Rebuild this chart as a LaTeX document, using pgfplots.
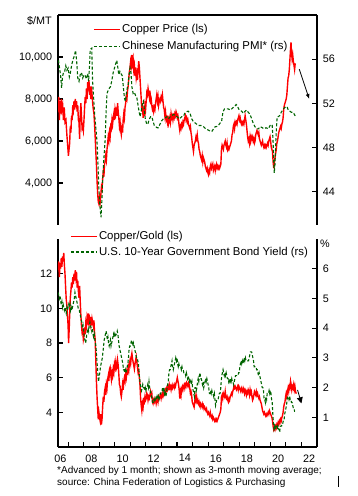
\documentclass[border=0pt]{standalone}
\usepackage{fontspec}
\setmainfont{Liberation Sans}
\usepackage{pgfplots}
\pgfplotsset{compat=1.18}
\usetikzlibrary{arrows.meta}
\definecolor{cured}{RGB}{255,0,0}
\definecolor{dgreen}{RGB}{0,100,0}
\pgfplotsset{
  panel/.style={scale only axis, width=259pt, xmin=2006.35, xmax=2023,
    tick align=inside, major tick length=5pt,
    axis line style={line width=1.1pt},
    every tick/.style={black, line width=1.1pt},
    ticklabel style={font=\fontsize{10.8}{12}\selectfont},
    scaled y ticks=false,
    /pgf/number format/assume math mode=true,
    /pgf/number format/1000 sep={,},
    legend cell align=left,
    legend image code/.code={\draw[##1] (0pt,0pt) -- (26pt,0pt);},
  },
  redline/.style={cured, line width=1.4pt},
  greenline/.style={dgreen, line width=1.1pt, dash pattern=on 3pt off 2pt},
  lab/.style={yticklabel style={xshift=-2.4pt}},
  rab/.style={yticklabel style={xshift=2.4pt}},
}
\begin{document}
\begin{tikzpicture}
\useasboundingbox (0pt,0pt) rectangle (358pt,496pt);
% ---------------- top panel: copper price
\begin{axis}[panel, lab, at={(58pt,271pt)}, anchor=south west, height=210pt,
  ymin=2000, ymax=12000, axis x line*=top, axis y line*=left, xtick=\empty,
  ytick={4000,6000,8000,10000}]
\addplot[redline] table {
x y
2006.36 7400
2006.40 8100
2006.44 7000
2006.48 7900
2006.52 7300
2006.56 8000
2006.60 7500
2006.65 7700
2006.70 7000
2006.75 7600
2006.80 6900
2006.86 7000
2006.92 6300
2006.97 5800
2007.02 5300
2007.06 5600
2007.10 5900
2007.14 6700
2007.18 6400
2007.22 7200
2007.26 7000
2007.30 7700
2007.34 7500
2007.38 7900
2007.42 7500
2007.46 8000
2007.50 7600
2007.54 7900
2007.58 7400
2007.62 7700
2007.66 7000
2007.70 6900
2007.74 6100
2007.78 7300
2007.82 7800
2007.86 7200
2007.90 6600
2007.94 6700
2007.98 6500
2008.02 7000
2008.06 7600
2008.10 8100
2008.14 7800
2008.18 8500
2008.22 8000
2008.26 8800
2008.30 8400
2008.34 8900
2008.38 8200
2008.42 8600
2008.46 8000
2008.50 8600
2008.54 8200
2008.58 7800
2008.62 7500
2008.66 7300
2008.70 6800
2008.74 6200
2008.78 5500
2008.82 4900
2008.86 4100
2008.90 3500
2008.94 3100
2008.98 3000
2009.02 3300
2009.06 3100
2009.10 3400
2009.14 3800
2009.18 3700
2009.22 4200
2009.26 4500
2009.30 4300
2009.34 4900
2009.38 5000
2009.42 5300
2009.46 5100
2009.50 5600
2009.54 5900
2009.58 6200
2009.62 6000
2009.66 6400
2009.70 6200
2009.74 6700
2009.78 6600
2009.82 7000
2009.86 6800
2009.90 7100
2009.94 7300
2009.98 7000
2010.02 7500
2010.06 7300
2010.10 7600
2010.14 7200
2010.18 7800
2010.22 7400
2010.26 7100
2010.30 6700
2010.34 6900
2010.38 6500
2010.42 6300
2010.46 6600
2010.50 6400
2010.54 7000
2010.58 7300
2010.62 7100
2010.66 7600
2010.70 7800
2010.74 8100
2010.78 8000
2010.82 8400
2010.86 8600
2010.90 9000
2010.94 9300
2010.98 9500
2011.02 9800
2011.06 9600
2011.10 10100
2011.14 9700
2011.18 9900
2011.22 9400
2011.26 9600
2011.30 9100
2011.34 9500
2011.38 9000
2011.42 9200
2011.46 8900
2011.50 9400
2011.54 9800
2011.58 9500
2011.62 9000
2011.66 8500
2011.70 8000
2011.74 7400
2011.78 7800
2011.82 7100
2011.86 7600
2011.90 7200
2011.94 7700
2011.98 7500
2012.02 7900
2012.06 8300
2012.10 8200
2012.14 8500
2012.18 8300
2012.22 8100
2012.26 8400
2012.30 7900
2012.34 8000
2012.38 7700
2012.42 7500
2012.46 7600
2012.50 7400
2012.54 7600
2012.58 7500
2012.62 7800
2012.66 8000
2012.70 8200
2012.74 7900
2012.78 8100
2012.82 7700
2012.86 7900
2012.90 8000
2012.94 7900
2012.98 8100
2013.02 8000
2013.06 8200
2013.10 7900
2013.14 7600
2013.18 7500
2013.22 7200
2013.26 7400
2013.30 7000
2013.34 7100
2013.38 6900
2013.42 7200
2013.46 6800
2013.50 6900
2013.54 7100
2013.58 6900
2013.62 7300
2013.66 7100
2013.70 7200
2013.74 7000
2013.78 7200
2013.82 7100
2013.86 7300
2013.90 7200
2013.94 7400
2013.98 7300
2014.02 7100
2014.06 7200
2014.10 7000
2014.14 6700
2014.18 6500
2014.22 6700
2014.26 6600
2014.30 6800
2014.34 6700
2014.38 6900
2014.42 6800
2014.46 7000
2014.50 7100
2014.54 7200
2014.58 7000
2014.62 7100
2014.66 6900
2014.70 7000
2014.74 6800
2014.78 6700
2014.82 6600
2014.86 6700
2014.90 6400
2014.94 6200
2014.98 5900
2015.02 5700
2015.06 5500
2015.10 5800
2015.14 5900
2015.18 6000
2015.22 6200
2015.26 6100
2015.30 6300
2015.34 6000
2015.38 5900
2015.42 5600
2015.46 5500
2015.50 5300
2015.54 5200
2015.58 5100
2015.62 5300
2015.66 5000
2015.70 5200
2015.74 5100
2015.78 5000
2015.82 4800
2015.86 4700
2015.90 4600
2015.94 4700
2015.98 4500
2016.02 4400
2016.06 4600
2016.10 4500
2016.14 4800
2016.18 4900
2016.22 4700
2016.26 4800
2016.30 4900
2016.34 4600
2016.38 4700
2016.42 4800
2016.46 4600
2016.50 4800
2016.54 4900
2016.58 4700
2016.62 4800
2016.66 4700
2016.70 4800
2016.74 4700
2016.78 4800
2016.82 4900
2016.86 5600
2016.90 5800
2016.94 5700
2016.98 5600
2017.02 5800
2017.06 5900
2017.10 6000
2017.14 5800
2017.18 5700
2017.22 5900
2017.26 5600
2017.30 5700
2017.34 5600
2017.38 5700
2017.42 5800
2017.46 5900
2017.50 6000
2017.54 6300
2017.58 6400
2017.62 6700
2017.66 6800
2017.70 6600
2017.74 6900
2017.78 6800
2017.82 6900
2017.86 6800
2017.90 7000
2017.94 7100
2017.98 7200
2018.02 7000
2018.06 7100
2018.10 6900
2018.14 6800
2018.18 6900
2018.22 6800
2018.26 6900
2018.30 6800
2018.34 7000
2018.38 7200
2018.42 7000
2018.46 6800
2018.50 6500
2018.54 6200
2018.58 6000
2018.62 6100
2018.66 5900
2018.70 6200
2018.74 6000
2018.78 6200
2018.82 6100
2018.86 6200
2018.90 6000
2018.94 6100
2018.98 5900
2019.02 6000
2019.06 6300
2019.10 6400
2019.14 6500
2019.18 6400
2019.22 6300
2019.26 6400
2019.30 6100
2019.34 6000
2019.38 5900
2019.42 5800
2019.46 5900
2019.50 6000
2019.54 5800
2019.58 5700
2019.62 5800
2019.66 5700
2019.70 5800
2019.74 5700
2019.78 5800
2019.82 5900
2019.86 5800
2019.90 6000
2019.94 6100
2019.98 6200
2020.02 6000
2020.06 5700
2020.10 5600
2020.14 5500
2020.18 5000
2020.22 4700
2020.26 5000
2020.30 5200
2020.34 5400
2020.38 5600
2020.42 5900
2020.46 6000
2020.50 6200
2020.54 6400
2020.58 6500
2020.62 6600
2020.66 6700
2020.70 6600
2020.74 6800
2020.78 6900
2020.82 7100
2020.86 7500
2020.90 7700
2020.94 7800
2020.98 7900
2021.02 8000
2021.06 8200
2021.10 8600
2021.14 9000
2021.18 9100
2021.22 9400
2021.26 9900
2021.30 10400
2021.33 10700
2021.36 10200
2021.40 9900
2021.44 10100
2021.48 9800
2021.52 9600
2021.56 9400
2021.60 9700
};
\end{axis}
% ---------------- top panel: PMI
\begin{axis}[panel, rab, at={(58pt,271pt)}, anchor=south west, height=210pt,
  ymin=41, ymax=60, axis x line=none, axis y line*=right, xtick=\empty,
  ytick={44,48,52,56},
  legend style={at={(rel axis cs:0.135,0.962)}, anchor=north west, draw=none, fill=none,
    inner sep=0pt, font=\fontsize{11.4}{13}\selectfont, row sep=4pt,
    nodes={inner sep=1.5pt}}]
\addlegendimage{redline}
\addlegendentry{Copper Price (ls)}
\addplot[greenline] table {
x y
2006.38 55.9
2006.45 55.2
2006.52 54.5
2006.58 53.4
2006.64 54.4
2006.70 54.8
2006.78 54.9
2006.85 55.4
2006.92 55.0
2007.00 55.2
2007.08 54.4
2007.15 54.8
2007.22 55.4
2007.30 55.9
2007.40 56.3
2007.48 56.8
2007.55 55.8
2007.62 54.3
2007.70 54.0
2007.78 54.6
2007.86 54.8
2007.94 54.3
2008.02 54.6
2008.10 54.5
2008.18 54.2
2008.26 54.7
2008.32 54.0
2008.38 55.5
2008.42 56.9
2008.52 57.0
2008.57 54.1
2008.64 52.5
2008.70 51.1
2008.78 49.8
2008.85 48.7
2008.92 46.5
2008.97 44.5
2009.03 43.0
2009.08 42.2
2009.12 41.7
2009.17 43.2
2009.22 45.1
2009.30 47.0
2009.38 48.7
2009.45 51.5
2009.50 52.9
2009.58 53.2
2009.66 53.4
2009.72 53.5
2009.80 54.0
2009.90 54.8
2009.98 55.2
2010.06 55.6
2010.13 55.9
2010.20 55.2
2010.26 54.6
2010.33 54.9
2010.40 54.7
2010.48 54.5
2010.55 53.5
2010.62 52.5
2010.68 52.2
2010.74 52.8
2010.80 53.4
2010.86 53.6
2010.92 54.6
2010.98 55.2
2011.04 54.8
2011.10 53.5
2011.18 52.9
2011.26 53.0
2011.34 52.7
2011.42 52.5
2011.50 51.8
2011.57 51.2
2011.63 50.8
2011.70 51.3
2011.78 52.0
2011.84 52.2
2011.90 51.5
2011.96 50.6
2012.04 50.2
2012.12 50.1
2012.20 50.5
2012.30 50.8
2012.38 50.8
2012.46 50.4
2012.54 50.0
2012.62 49.9
2012.72 49.8
2012.80 49.8
2012.90 50.1
2013.00 50.4
2013.12 50.6
2013.24 50.7
2013.34 50.8
2013.46 50.6
2013.56 50.8
2013.66 50.9
2013.78 51.0
2013.90 50.9
2014.00 50.8
2014.15 50.6
2014.30 50.8
2014.40 50.8
2014.50 51.1
2014.62 51.25
2014.72 51.3
2014.84 51.1
2014.95 50.6
2015.05 50.35
2015.20 50.2
2015.37 50.0
2015.55 50.0
2015.70 49.9
2015.85 49.7
2016.00 49.6
2016.12 49.5
2016.23 49.45
2016.35 49.7
2016.46 49.9
2016.54 49.9
2016.65 50.0
2016.76 50.2
2016.87 50.4
2016.95 51.2
2017.05 51.5
2017.18 51.5
2017.30 51.5
2017.45 51.4
2017.58 51.6
2017.70 51.7
2017.80 51.9
2017.88 51.8
2017.96 51.5
2018.05 51.4
2018.15 51.3
2018.27 51.1
2018.38 51.3
2018.48 51.4
2018.58 51.2
2018.70 51.0
2018.80 50.6
2018.90 50.2
2019.01 49.9
2019.12 49.7
2019.23 49.7
2019.35 49.9
2019.48 49.8
2019.60 49.7
2019.72 49.8
2019.87 49.7
2019.98 50.0
2020.08 50.1
2020.12 50.0
2020.16 49.0
2020.19 48.0
2020.22 46.8
2020.25 45.7
2020.30 46.5
2020.34 48.0
2020.39 49.7
2020.44 50.8
2020.52 50.8
2020.60 50.9
2020.70 51.2
2020.80 51.4
2020.90 51.6
2021.00 51.7
2021.08 51.7
2021.15 51.4
2021.25 51.3
2021.35 51.2
2021.45 51.2
2021.55 51.0
2021.62 50.8
};
\addlegendentry{Chinese Manufacturing PMI* (rs)}
\addplot[black, line width=0.8pt, -{Latex[length=5pt,width=4pt]}, forget plot] coordinates {(2021.86,55.1) (2022.5,52.4)};
\end{axis}
\node[anchor=east, inner sep=0pt, font=\fontsize{10.8}{12}\selectfont] at (52pt,475pt) {\$/MT};
% ---------------- bottom panel: copper/gold
\begin{axis}[panel, lab, at={(58pt,49pt)}, anchor=south west, height=208pt,
  ymin=2, ymax=14, axis x line*=bottom, axis y line*=left,
  ytick={4,6,8,10,12},
  xtick={2007,...,2023}, xticklabels={06,,08,,10,,12,,14,,16,,18,,20,,22},
  xticklabel style={xshift=-7.78pt, yshift=-4pt}]
\addplot[redline] table {
x y
2006.36 12.2
2006.40 12.7
2006.44 11.8
2006.48 12.6
2006.52 12.3
2006.56 12.9
2006.60 12.4
2006.64 13.0
2006.68 12.7
2006.72 13.2
2006.76 12.5
2006.80 12.0
2006.84 11.2
2006.88 10.5
2006.92 10.2
2006.96 9.6
2007.00 9.0
2007.03 8.0
2007.07 8.8
2007.10 9.6
2007.14 10.6
2007.18 11.0
2007.22 11.5
2007.26 11.2
2007.30 11.8
2007.34 11.4
2007.38 12.0
2007.42 11.6
2007.46 12.2
2007.50 11.8
2007.54 12.1
2007.58 11.2
2007.62 11.6
2007.66 11.0
2007.70 10.6
2007.74 11.3
2007.78 10.4
2007.82 9.6
2007.86 9.0
2007.90 8.6
2007.94 8.7
2007.98 8.2
2008.02 8.4
2008.06 8.9
2008.10 8.5
2008.14 9.2
2008.18 9.0
2008.22 9.5
2008.26 9.3
2008.30 9.7
2008.34 9.2
2008.38 9.4
2008.42 9.1
2008.46 9.5
2008.50 9.0
2008.54 9.4
2008.58 9.2
2008.62 9.0
2008.66 9.3
2008.70 8.6
2008.74 8.2
2008.78 7.0
2008.82 5.8
2008.86 4.9
2008.90 4.2
2008.94 3.6
2008.98 4.0
2009.02 3.7
2009.06 3.5
2009.10 3.9
2009.14 3.3
2009.18 3.6
2009.22 4.3
2009.26 4.9
2009.30 4.6
2009.34 5.2
2009.38 5.4
2009.42 5.0
2009.46 5.6
2009.50 5.4
2009.54 5.9
2009.58 6.1
2009.62 5.8
2009.66 6.5
2009.70 6.6
2009.74 6.2
2009.78 5.9
2009.82 6.3
2009.86 6.1
2009.90 6.5
2009.94 6.3
2009.98 6.8
2010.02 6.6
2010.06 6.9
2010.10 6.5
2010.14 6.6
2010.18 7.0
2010.22 6.7
2010.26 6.2
2010.30 5.6
2010.34 5.5
2010.38 5.1
2010.42 4.9
2010.46 5.2
2010.50 5.6
2010.54 5.3
2010.58 5.8
2010.62 6.0
2010.66 5.8
2010.70 6.2
2010.74 6.0
2010.78 6.4
2010.82 6.3
2010.86 6.6
2010.90 6.4
2010.94 6.8
2010.98 7.0
2011.02 6.8
2011.06 7.2
2011.10 7.4
2011.14 7.1
2011.18 6.9
2011.22 6.7
2011.26 6.5
2011.30 6.8
2011.34 7.0
2011.38 7.2
2011.42 6.9
2011.46 6.6
2011.50 6.3
2011.54 6.4
2011.58 6.0
2011.62 5.6
2011.66 4.8
2011.70 4.4
2011.74 4.1
2011.78 4.5
2011.82 4.3
2011.86 4.7
2011.90 4.6
2011.94 4.9
2011.98 4.7
2012.02 4.8
2012.06 5.1
2012.10 5.0
2012.14 4.7
2012.18 4.9
2012.22 4.8
2012.26 5.0
2012.30 5.2
2012.34 5.0
2012.38 5.1
2012.42 4.6
2012.46 4.5
2012.50 4.7
2012.54 4.6
2012.58 4.8
2012.62 4.7
2012.66 4.5
2012.70 4.7
2012.74 4.8
2012.78 4.6
2012.82 4.9
2012.86 4.8
2012.90 4.9
2012.94 5.0
2012.98 4.8
2013.02 5.0
2013.06 5.1
2013.10 4.9
2013.14 5.0
2013.18 5.2
2013.22 5.1
2013.26 5.3
2013.30 5.2
2013.34 5.4
2013.38 5.3
2013.42 5.5
2013.46 5.4
2013.50 5.6
2013.54 5.4
2013.58 5.5
2013.62 5.3
2013.66 5.5
2013.70 5.4
2013.74 5.6
2013.78 5.5
2013.82 5.4
2013.86 5.6
2013.90 5.5
2013.94 5.7
2013.98 5.8
2014.02 6.0
2014.06 5.8
2014.10 5.6
2014.14 5.3
2014.18 4.8
2014.22 5.2
2014.26 5.0
2014.30 5.4
2014.34 5.5
2014.38 5.3
2014.42 5.5
2014.46 5.6
2014.50 5.4
2014.54 5.6
2014.58 5.5
2014.62 5.7
2014.66 5.6
2014.70 5.5
2014.74 5.7
2014.78 5.6
2014.82 5.4
2014.86 5.1
2014.90 5.2
2014.94 5.0
2014.98 4.6
2015.02 4.5
2015.06 4.4
2015.10 4.3
2015.14 4.6
2015.18 4.9
2015.22 4.7
2015.26 4.9
2015.30 4.6
2015.34 4.7
2015.38 4.5
2015.42 4.6
2015.46 4.4
2015.50 4.5
2015.54 4.3
2015.58 4.4
2015.62 4.5
2015.66 4.3
2015.70 4.4
2015.74 4.2
2015.78 4.3
2015.82 4.2
2015.86 4.1
2015.90 4.2
2015.94 4.0
2015.98 3.9
2016.02 4.0
2016.06 3.9
2016.10 3.8
2016.14 4.0
2016.18 3.8
2016.22 3.7
2016.26 3.8
2016.30 3.6
2016.34 3.7
2016.38 3.6
2016.42 3.5
2016.46 3.6
2016.50 3.5
2016.54 3.6
2016.58 3.5
2016.62 3.6
2016.66 3.7
2016.70 3.8
2016.74 3.9
2016.78 4.0
2016.82 4.2
2016.86 4.9
2016.90 5.0
2016.94 4.8
2016.98 5.1
2017.02 5.0
2017.06 4.9
2017.10 5.2
2017.14 4.9
2017.18 4.8
2017.22 4.9
2017.26 4.7
2017.30 4.6
2017.34 4.8
2017.38 4.7
2017.42 4.9
2017.46 5.0
2017.50 5.1
2017.54 5.0
2017.58 5.2
2017.62 5.3
2017.66 5.5
2017.70 5.4
2017.74 5.5
2017.78 5.4
2017.82 5.3
2017.86 5.4
2017.90 5.5
2017.94 5.3
2017.98 5.5
2018.02 5.4
2018.06 5.3
2018.10 5.2
2018.14 5.4
2018.18 5.3
2018.22 5.2
2018.26 5.4
2018.30 5.3
2018.34 5.1
2018.38 5.3
2018.42 5.2
2018.46 5.0
2018.50 5.2
2018.54 5.1
2018.58 5.3
2018.62 5.2
2018.66 5.0
2018.70 5.3
2018.74 5.1
2018.78 5.2
2018.82 4.9
2018.86 4.7
2018.90 4.8
2018.94 5.0
2018.98 5.2
2019.02 5.1
2019.06 5.0
2019.10 5.2
2019.14 5.0
2019.18 5.1
2019.22 4.9
2019.26 4.8
2019.30 4.9
2019.34 4.7
2019.38 4.6
2019.42 4.5
2019.46 4.3
2019.50 4.1
2019.54 4.0
2019.58 3.9
2019.62 4.0
2019.66 3.9
2019.70 3.8
2019.74 3.9
2019.78 3.8
2019.82 3.9
2019.86 4.0
2019.90 3.9
2019.94 4.1
2019.98 4.0
2020.02 3.9
2020.06 3.8
2020.10 3.7
2020.14 3.5
2020.18 3.2
2020.22 3.0
2020.26 3.1
2020.30 3.0
2020.34 3.2
2020.38 3.1
2020.42 3.3
2020.46 3.2
2020.50 3.4
2020.54 3.3
2020.58 3.5
2020.62 3.4
2020.66 3.6
2020.70 3.5
2020.74 3.7
2020.78 3.8
2020.82 4.0
2020.86 4.3
2020.90 4.5
2020.94 4.6
2020.98 4.9
2021.02 5.1
2021.06 4.9
2021.10 5.2
2021.14 5.4
2021.18 5.2
2021.22 5.5
2021.26 5.4
2021.30 5.8
2021.34 5.6
2021.38 5.3
2021.42 5.5
2021.46 5.4
2021.50 5.6
2021.54 5.3
2021.58 5.5
2021.62 5.2
2021.66 5.1
2021.69 5.1
};
\end{axis}
% ---------------- bottom panel: bond yield
\begin{axis}[panel, rab, at={(58pt,49pt)}, anchor=south west, height=208pt,
  ymin=0, ymax=7, axis x line=none, axis y line*=right, xtick=\empty,
  ytick={1,2,3,4,5,6},
  legend style={at={(rel axis cs:0.046,1.045)}, anchor=north west, draw=none, fill=none,
    inner sep=0pt, font=\fontsize{11.4}{13}\selectfont, row sep=3pt,
    nodes={inner sep=1.5pt}}]
\addlegendimage{redline}
\addlegendentry{Copper/Gold (ls)}
\addplot[greenline] table {
x y
2006.36 5.2
2006.40 5.1
2006.44 5.0
2006.48 5.1
2006.52 4.9
2006.56 4.8
2006.60 4.9
2006.64 4.7
2006.68 4.8
2006.72 4.7
2006.76 4.6
2006.80 4.7
2006.84 4.6
2006.88 4.5
2006.92 4.7
2006.96 4.6
2007.00 4.7
2007.04 4.8
2007.08 4.7
2007.12 4.8
2007.16 4.6
2007.20 4.7
2007.24 4.6
2007.28 4.7
2007.32 4.8
2007.36 4.9
2007.40 5.0
2007.44 5.2
2007.48 5.1
2007.52 5.0
2007.56 4.9
2007.60 4.8
2007.64 4.7
2007.68 4.6
2007.72 4.6
2007.76 4.5
2007.80 4.4
2007.84 4.3
2007.88 4.2
2007.92 4.0
2007.96 4.1
2008.00 3.9
2008.04 3.7
2008.08 3.6
2008.12 3.5
2008.16 3.6
2008.20 3.8
2008.24 3.9
2008.28 4.0
2008.32 3.9
2008.36 4.1
2008.40 4.2
2008.44 4.1
2008.48 4.0
2008.52 3.9
2008.56 4.0
2008.60 3.8
2008.64 3.7
2008.68 3.8
2008.72 3.6
2008.76 3.5
2008.80 3.3
2008.84 3.0
2008.88 2.7
2008.92 2.4
2008.96 2.2
2009.00 2.4
2009.04 2.5
2009.08 2.7
2009.12 2.8
2009.16 2.9
2009.20 3.0
2009.24 3.2
2009.28 3.4
2009.32 3.6
2009.36 3.7
2009.40 3.8
2009.44 3.9
2009.48 3.8
2009.52 3.6
2009.56 3.7
2009.60 3.5
2009.64 3.4
2009.68 3.5
2009.72 3.6
2009.76 3.4
2009.80 3.5
2009.84 3.6
2009.88 3.7
2009.92 3.8
2009.96 3.7
2010.00 3.8
2010.04 3.7
2010.08 3.8
2010.12 3.8
2010.16 3.9
2010.20 3.8
2010.24 3.6
2010.28 3.4
2010.32 3.3
2010.36 3.2
2010.40 3.1
2010.44 3.0
2010.48 2.9
2010.52 2.8
2010.56 2.6
2010.60 2.6
2010.64 2.5
2010.68 2.6
2010.72 2.5
2010.76 2.6
2010.80 2.7
2010.84 2.8
2010.88 3.0
2010.92 3.3
2010.96 3.4
2011.00 3.4
2011.04 3.5
2011.08 3.6
2011.12 3.5
2011.16 3.4
2011.20 3.5
2011.24 3.4
2011.28 3.3
2011.32 3.2
2011.36 3.1
2011.40 3.0
2011.44 3.0
2011.48 2.9
2011.52 2.8
2011.56 2.5
2011.60 2.3
2011.64 2.1
2011.68 2.0
2011.72 1.9
2011.76 2.0
2011.80 2.1
2011.84 2.0
2011.88 2.0
2011.92 1.9
2011.96 2.0
2012.00 1.9
2012.04 2.0
2012.08 2.0
2012.12 2.1
2012.16 2.0
2012.20 2.2
2012.24 2.0
2012.28 1.9
2012.32 1.8
2012.36 1.7
2012.40 1.6
2012.44 1.5
2012.48 1.5
2012.52 1.6
2012.56 1.5
2012.60 1.6
2012.64 1.7
2012.68 1.6
2012.72 1.7
2012.76 1.6
2012.80 1.7
2012.84 1.6
2012.88 1.7
2012.92 1.8
2012.96 1.8
2013.00 1.9
2013.04 1.9
2013.08 2.0
2013.12 1.9
2013.16 2.0
2013.20 1.8
2013.24 1.9
2013.28 1.7
2013.32 1.8
2013.36 2.0
2013.40 2.1
2013.44 2.2
2013.48 2.5
2013.52 2.6
2013.56 2.6
2013.60 2.7
2013.64 2.8
2013.68 2.9
2013.72 2.7
2013.76 2.6
2013.80 2.7
2013.84 2.8
2013.88 2.9
2013.92 3.0
2013.96 2.9
2014.00 3.0
2014.04 2.8
2014.08 2.7
2014.12 2.8
2014.16 2.7
2014.20 2.7
2014.24 2.7
2014.28 2.6
2014.32 2.7
2014.36 2.6
2014.40 2.6
2014.44 2.5
2014.48 2.5
2014.52 2.5
2014.56 2.4
2014.60 2.5
2014.64 2.4
2014.68 2.3
2014.72 2.4
2014.76 2.3
2014.80 2.2
2014.84 2.3
2014.88 2.2
2014.92 2.1
2014.96 2.2
2015.00 2.0
2015.04 1.9
2015.08 1.8
2015.12 1.7
2015.16 2.0
2015.20 2.0
2015.24 1.9
2015.28 2.0
2015.32 2.2
2015.36 2.3
2015.40 2.2
2015.44 2.4
2015.48 2.5
2015.52 2.3
2015.56 2.3
2015.60 2.2
2015.64 2.1
2015.68 2.2
2015.72 2.0
2015.76 2.1
2015.80 2.2
2015.84 2.3
2015.88 2.2
2015.92 2.3
2015.96 2.2
2016.00 2.1
2016.04 2.0
2016.08 1.8
2016.12 1.8
2016.16 1.9
2016.20 1.8
2016.24 1.9
2016.28 1.8
2016.32 1.8
2016.36 1.7
2016.40 1.8
2016.44 1.6
2016.48 1.4
2016.52 1.5
2016.56 1.6
2016.60 1.6
2016.64 1.6
2016.68 1.7
2016.72 1.8
2016.76 1.8
2016.80 1.9
2016.84 2.2
2016.88 2.4
2016.92 2.5
2016.96 2.6
2017.00 2.5
2017.04 2.4
2017.08 2.5
2017.12 2.4
2017.16 2.5
2017.20 2.4
2017.24 2.3
2017.28 2.3
2017.32 2.2
2017.36 2.3
2017.40 2.2
2017.44 2.3
2017.48 2.2
2017.52 2.3
2017.56 2.2
2017.60 2.2
2017.64 2.1
2017.68 2.2
2017.72 2.3
2017.76 2.4
2017.80 2.4
2017.84 2.4
2017.88 2.4
2017.92 2.4
2017.96 2.5
2018.00 2.5
2018.04 2.7
2018.08 2.8
2018.12 2.9
2018.16 2.8
2018.20 2.9
2018.24 2.8
2018.28 2.9
2018.32 3.0
2018.36 2.9
2018.40 3.0
2018.44 2.9
2018.48 2.9
2018.52 2.9
2018.56 2.9
2018.60 2.9
2018.64 3.0
2018.68 3.1
2018.72 3.2
2018.76 3.2
2018.80 3.2
2018.84 3.1
2018.88 3.0
2018.92 2.9
2018.96 2.7
2019.00 2.7
2019.04 2.7
2019.08 2.7
2019.12 2.6
2019.16 2.6
2019.20 2.5
2019.24 2.4
2019.28 2.5
2019.32 2.4
2019.36 2.3
2019.40 2.2
2019.44 2.1
2019.48 2.0
2019.52 2.0
2019.56 1.9
2019.60 1.6
2019.64 1.6
2019.68 1.5
2019.72 1.7
2019.76 1.6
2019.80 1.8
2019.84 1.8
2019.88 1.8
2019.92 1.9
2019.96 1.8
2020.00 1.9
2020.04 1.8
2020.08 1.6
2020.12 1.5
2020.16 1.1
2020.20 0.8
2020.24 0.6
2020.28 0.7
2020.32 0.6
2020.36 0.7
2020.40 0.7
2020.44 0.6
2020.48 0.7
2020.52 0.6
2020.56 0.6
2020.60 0.5
2020.64 0.7
2020.68 0.7
2020.72 0.7
2020.76 0.8
2020.80 0.8
2020.84 0.9
2020.88 0.9
2020.92 1.1
2020.96 1.2
2021.00 1.3
2021.04 1.4
2021.08 1.6
2021.12 1.7
2021.16 1.7
2021.20 1.6
2021.24 1.7
2021.28 1.6
2021.32 1.6
2021.36 1.5
2021.40 1.5
2021.44 1.4
2021.48 1.3
2021.52 1.3
2021.56 1.2
2021.58 1.2
};
\addlegendentry{U.S. 10-Year Government Bond Yield (rs)}
\addplot[black, line width=0.8pt, -{Triangle[length=6pt,width=6pt]}, forget plot] coordinates {(2021.75,1.92) (2022.0,1.47)};
\end{axis}
\node[anchor=west, inner sep=0pt, font=\fontsize{10.8}{12}\selectfont] at (320pt,252pt) {\%};
\node[anchor=west, inner sep=0pt, font=\fontsize{10}{12}\selectfont] at (57pt,25pt) {*Advanced by 1 month; shown as 3-month moving average;};
\node[anchor=west, inner sep=0pt, font=\fontsize{10}{12}\selectfont] at (57pt,13pt) {source: China Federation of Logistics \& Purchasing};
\draw[black, line width=0.8pt] (338pt,9pt) -- (338pt,20pt);
\end{tikzpicture}
\end{document}
